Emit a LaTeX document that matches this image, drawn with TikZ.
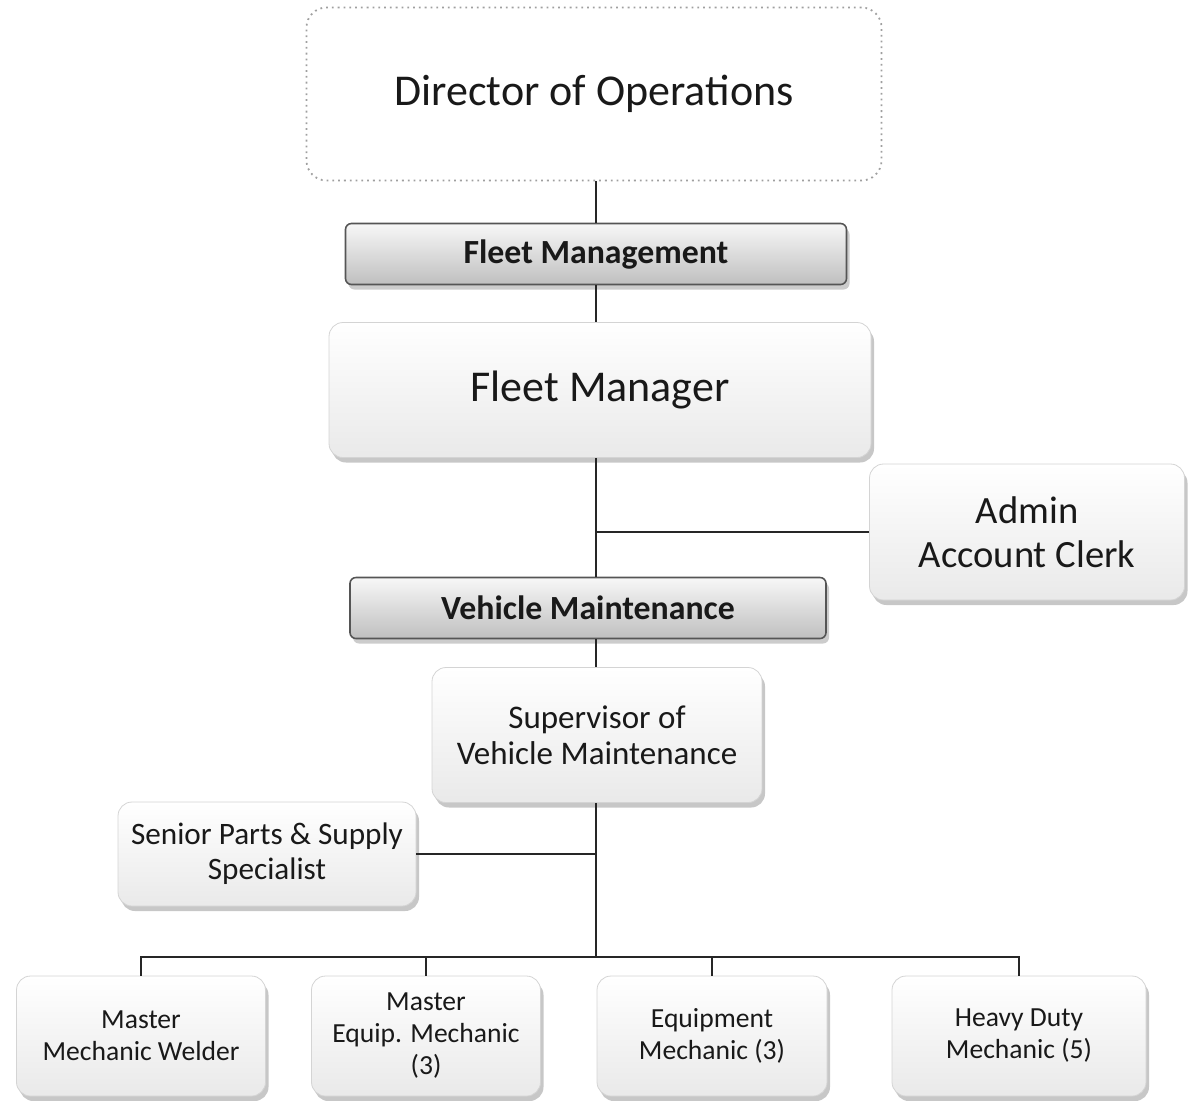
\documentclass[tikz,border=0pt]{standalone}
\usepackage{fontspec}
\setmainfont{Carlito}
\usetikzlibrary{positioning, calc, shadows, shapes}
\definecolor{boxline}{RGB}{212,212,212}
\definecolor{barline}{RGB}{85,85,85}
\definecolor{inkgray}{RGB}{25,25,25}
\newcommand{\bigtext}{\fontsize{22}{26}\selectfont}
\newcommand{\midtext}{\fontsize{19.3}{22}\selectfont}
\newcommand{\bartext}{\fontsize{16.9}{19}\selectfont\bfseries}
\newcommand{\subtext}{\fontsize{16.5}{18}\selectfont}
\newcommand{\parttext}{\fontsize{15.6}{17.5}\selectfont}
\newcommand{\smalltext}{\fontsize{13.8}{16}\selectfont}
\tikzset{
	unit/.style={draw=boxline, rounded corners=7pt, top color=white, bottom color=gray!17, align=center, inner sep=2pt, text=inkgray,
		drop shadow={shadow xshift=1.5pt, shadow yshift=-2.5pt, fill=gray!80, opacity=.55}},
	header/.style={draw=barline, line width=.8pt, rounded corners=3pt, top color=gray!6, bottom color=gray!50, align=center, text=inkgray,
		drop shadow={shadow xshift=1.5pt, shadow yshift=-2.5pt, fill=gray!80, opacity=.5}, font=\bartext},
	link/.style={line width=1.1pt, black!85}
}

\begin{document}
\begin{tikzpicture}[x=0.5pt, y=-0.5pt]
	\useasboundingbox (0,0) rectangle (1192,1100);
	
	% top of the chart
	\node [draw=gray!75, dotted, line width=.9pt, rounded corners=10pt, minimum width=287.5pt, minimum height=86.5pt, text=inkgray, font=\bigtext] (dir) at (594,94) {\raisebox{-3pt}{Director of Operations}};
	\node [header, minimum width=250.5pt, minimum height=30.5pt] (fmgmt) at (596,254) {Fleet Management};
	\node [unit, minimum width=271pt, minimum height=67.5pt, font=\bigtext] (fmgr) at (600,390) {Fleet Manager};
	\node [unit, minimum width=157.5pt, minimum height=68pt, font=\midtext] (admin) at (1027,532) {Admin\\Account Clerk};
	
	% maintenance branch
	\node [header, minimum width=238pt, minimum height=30.5pt] (vmaint) at (588,608) {Vehicle Maintenance};
	\node [unit, minimum width=165pt, minimum height=67.5pt, font=\subtext] (super) at (597,735) {Supervisor of\\Vehicle Maintenance};
	\node [unit, minimum width=149pt, minimum height=52pt, font=\parttext] (parts) at (267,854) {Senior Parts \& Supply\\Specialist};
	
	% mechanics
	\node [unit, minimum width=124.5pt, minimum height=60pt, font=\smalltext] (welder) at (141,1036) {Master\\Mechanic Welder};
	\node [unit, minimum width=114.5pt, minimum height=60pt, font=\smalltext] (mequip) at (426,1036) {Master\\Equip. Mechanic\\(3)};
	\node [unit, minimum width=115pt, minimum height=60pt, font=\smalltext] (equip) at (712,1036) {Equipment\\Mechanic (3)};
	\node [unit, minimum width=127pt, minimum height=60pt, font=\smalltext] (heavy) at (1019,1036) {Heavy Duty\\Mechanic (5)};
	
	\coordinate (trunk) at (596,0);
	\coordinate (bus) at (0,957);
	
	\draw [link] (dir.south -| trunk) -- (fmgmt.north -| trunk);
	\draw [link] (fmgmt.south -| trunk) -- (fmgr.north -| trunk);
	\draw [link] (fmgr.south -| trunk) -- (vmaint.north -| trunk);
	\draw [link] (admin.west) -- (admin.west -| trunk);
	\draw [link] (vmaint.south -| trunk) -- (super.north -| trunk);
	\draw [link] (super.south -| trunk) -- (bus -| trunk);
	\draw [link] (parts.east) -- (parts.east -| trunk);
	\draw [link] (welder.north) -- (bus -| welder.north) -- (bus -| heavy.north) -- (heavy.north);
	\draw [link] (mequip.north) -- (bus -| mequip.north);
	\draw [link] (equip.north) -- (bus -| equip.north);
\end{tikzpicture}
\end{document}
